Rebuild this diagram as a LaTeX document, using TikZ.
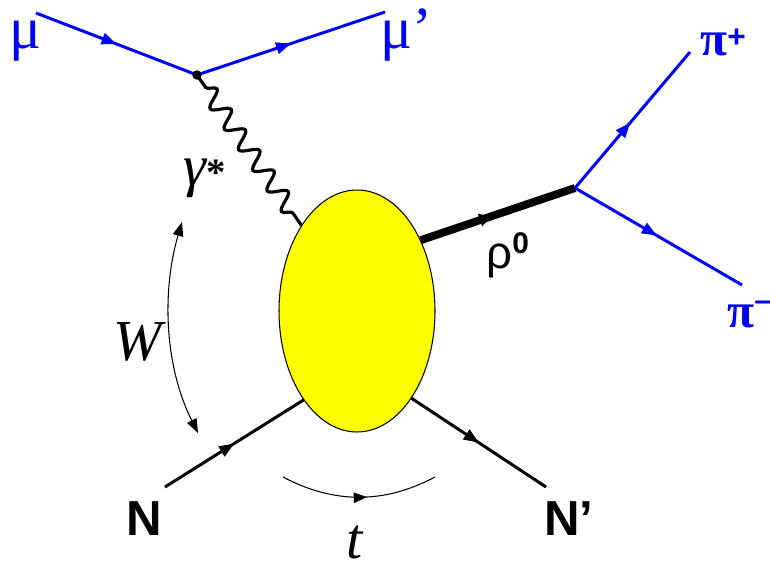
\documentclass[tikz,border=0pt]{standalone}
\usepackage{fontspec}
\setmainfont{Liberation Serif}
\newfontfamily\arialfont{Liberation Sans}
\usepackage{tikz}
\usetikzlibrary{
    arrows.meta,
    decorations.markings,
    decorations.pathmorphing,
    shapes.geometric
}
\definecolor{lepton}{RGB}{0,0,255}
\definecolor{blobfill}{RGB}{255,255,0}
\definecolor{ink}{RGB}{0,0,0}
\tikzset{
    fermiontip/.tip={Triangle[length=8.5pt, width=6.5pt]},
    kintip/.tip={Triangle[length=8pt, width=6pt]},
    midarrow/.style={
        postaction={decorate},
        decoration={markings, mark=at position #1 with {\arrow{fermiontip}}}
    },
    muonline/.style={draw=lepton, line width=1.7pt, midarrow=0.5},
    pionline/.style={draw=lepton, line width=1.7pt, midarrow=#1},
    nucleonline/.style={draw=ink, line width=1.7pt, midarrow=0.5},
    mesonline/.style={
        draw=ink,
        line width=4.5pt,
        postaction={decorate},
        decoration={markings, mark=at position 0.46 with {\arrow{Triangle[length=7pt, width=7pt]}}}
    },
    photon/.style={
        draw=ink,
        line width=1.8pt,
        decorate,
        decoration={snake, segment length=0.5cm, amplitude=0.17cm, pre length=0.3cm, post length=0.15cm}
    },
    kinarc/.style={draw=ink, line width=0.6pt},
    blob/.style={
        ellipse,
        draw=ink,
        line width=0.6pt,
        fill=blobfill,
        minimum width=3.12cm,
        minimum height=4.84cm,
        inner sep=0pt
    },
    vertexdot/.style={circle, fill=ink, minimum size=0.19cm, inner sep=0pt},
    lbl/.style={inner sep=0pt, anchor=base west},
    bluelabel/.style={lbl, text=lepton},
    serifbig/.style={font=\fontsize{34}{40}\selectfont},
    serifital/.style={font=\fontsize{33}{38}\selectfont\itshape},
    sansbold/.style={font=\fontsize{28}{34}\selectfont\arialfont\bfseries}
}

\begin{document}
\begin{tikzpicture}[x=0.02cm, y=-0.02cm]
\useasboundingbox (0,0) rectangle (770,568);

\coordinate (muin) at (36,13);
\coordinate (vtx) at (197,75);
\coordinate (muout) at (385,12);
\coordinate (rhovtx) at (575,188);
\coordinate (pipend) at (690,52);
\coordinate (pimend) at (742,285);
\coordinate (nin) at (165,487);
\coordinate (nout) at (546,487);
\coordinate (wtop) at (182,222);
\coordinate (wbot) at (198,433);
\coordinate (tleft) at (283,477);
\coordinate (tright) at (435,477);

\node[blob] (blob) at (357,311) {};

% lepton vertex
\draw[muonline] (muin) -- (vtx);
\draw[muonline] (vtx) -- (muout);
\draw[photon] (vtx) -- (blob.123);

% vector meson and its decay
\draw[mesonline] (blob.48) -- (rhovtx);
\draw[pionline=0.48] (rhovtx) -- (pipend);
\draw[pionline=0.49] (rhovtx) -- (pimend);

% target nucleon
\draw[nucleonline] (nin) -- (blob.239);
\draw[nucleonline] (blob.302) -- (nout);

\node[vertexdot] (vtxdot) at (vtx) {};

% kinematic variables
\draw[kinarc, kintip-kintip] (wbot) .. controls (164,365) and (162,290) .. (wtop);
\draw[kinarc, postaction={decorate},
    decoration={markings, mark=at position 0.55 with {\arrow{Triangle[length=7.5pt, width=6pt]}}}]
    (tleft) .. controls (334,504) and (384,504) .. (tright);

\node[bluelabel, serifbig] (mu) at (9,48) {μ};
\node[bluelabel, serifbig] (muprime) at (380,48) {μ’};
\node[lbl, font=\fontsize{33}{38}\selectfont\itshape] (gamma) at (183,185) {γ\fontsize{22}{22}\selectfont\upshape\bfseries *};
\node[bluelabel, font=\fontsize{28}{34}\selectfont\bfseries] (piplus) at (700,55)
    {π\raisebox{4pt}{\fontsize{18}{18}\selectfont\arialfont\bfseries +}};
\node[bluelabel, font=\fontsize{28}{34}\selectfont\bfseries] (piminus) at (727,327)
    {π\raisebox{9.5pt}{\fontsize{17}{17}\selectfont\arialfont\bfseries –}};
\node[lbl, font=\fontsize{26}{30}\selectfont\arialfont] (rho) at (486,268)
    {ρ\raisebox{8.5pt}{\fontsize{17}{17}\selectfont\bfseries 0}};
\node[lbl, serifital] (wlbl) at (113,360) {W};
\node[lbl, serifital] (tlbl) at (346,558) {t};
\node[lbl, sansbold] (nlbl) at (126,535) {N};
\node[lbl, sansbold] (nprime) at (544,535) {N’};
\end{tikzpicture}
\end{document}
